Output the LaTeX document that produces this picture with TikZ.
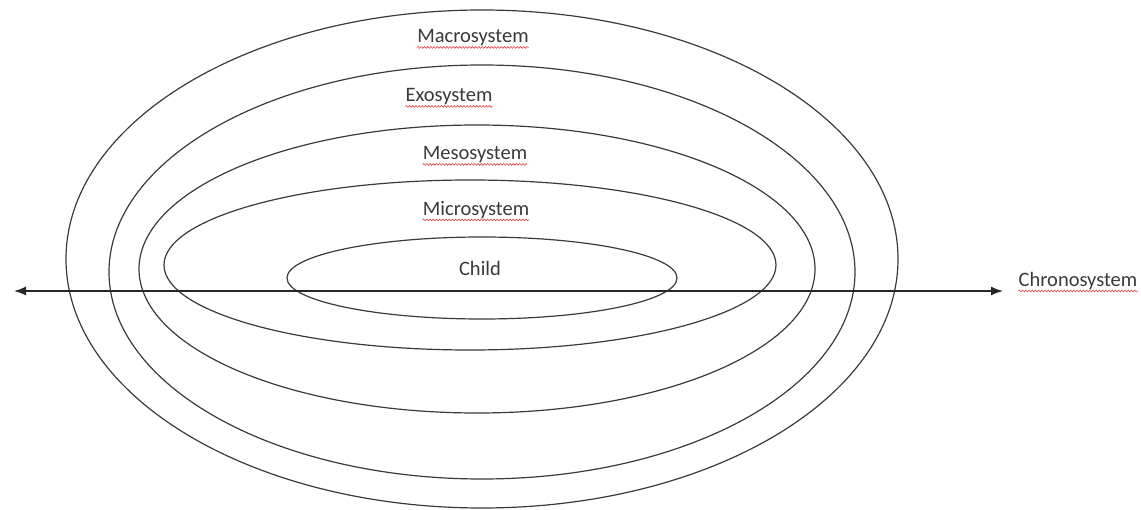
\documentclass[tikz,border=0pt]{standalone}
\usepackage{fontspec}
\setmainfont{Carlito}
\usetikzlibrary{arrows.meta, decorations.pathmorphing}
\definecolor{ringgray}{HTML}{3A3A3A}
\definecolor{spellred}{HTML}{E04040}

\begin{document}
\begin{tikzpicture}[x=1pt, y=-1pt, font=\fontsize{20.5}{24}\selectfont,
  every node/.style={align=center, text=ringgray, inner sep=0pt},
  ring/.style={draw=ringgray, line width=1.2pt},
  squiggle/.style={draw=spellred, line width=0.6pt, decorate,
    decoration={snake, amplitude=0.9pt, segment length=3.2pt}}]
  \useasboundingbox (0,0) rectangle (1141,510);

  % --- Nested rings ---
  \draw[ring] (482,259) ellipse [x radius=416, y radius=249];
  \draw[ring] (482,272) ellipse [x radius=373, y radius=207];
  \draw[ring] (477,269) ellipse [x radius=338, y radius=144];
  \draw[ring] (470,265) ellipse [x radius=306, y radius=85];
  \draw[ring] (482,278) ellipse [x radius=195, y radius=41];

  % --- Time axis ---
  \coordinate (past) at (14,291);
  \coordinate (future) at (1003,291);
  \draw[{Latex[length=12pt, width=9pt]}-{Latex[length=12pt, width=9pt]}, draw=black!85, line width=1.4pt] (past) -- (future);

  % --- Labels ---
  \node (macro)  at (473,38)  {Macrosystem};
  \node (exo)    at (449,97)  {Exosystem};
  \node (meso)   at (475,155) {Mesosystem};
  \node (micro)  at (476,210) {Microsystem};
  \node (child)  at (480,268) {Child};
  \node (chrono) at (1078,281) {Chronosystem};

  % --- Spell-check underlines ---
  \draw[squiggle] ([yshift=-4.5pt]macro.base west) -- ([yshift=-4.5pt]macro.base east);
  \draw[squiggle] ([yshift=-4.5pt]exo.base west) -- ([yshift=-4.5pt]exo.base east);
  \draw[squiggle] ([yshift=-4.5pt]meso.base west) -- ([yshift=-4.5pt]meso.base east);
  \draw[squiggle] ([yshift=-4.5pt]micro.base west) -- ([yshift=-4.5pt]micro.base east);
  \draw[squiggle] ([yshift=-4.5pt]chrono.base west) -- ([yshift=-4.5pt]chrono.base east);
\end{tikzpicture}
\end{document}
